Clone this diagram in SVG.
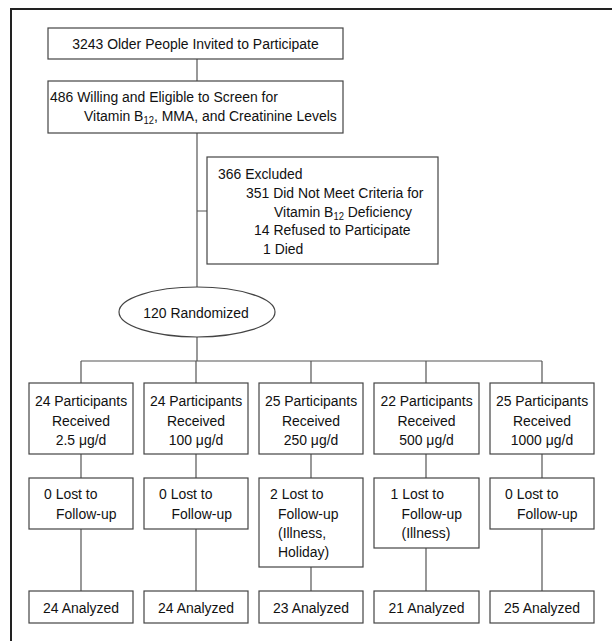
<svg xmlns="http://www.w3.org/2000/svg" width="612" height="641" viewBox="0 0 612 641">
<style>
text{font-family:"Liberation Sans",Arial,sans-serif;font-size:15.5px;fill:#111}
.m{text-anchor:middle}
.sub{font-size:10.5px}
.box{fill:#fff;stroke:#444;stroke-width:1.2}
.ln{fill:none;stroke:#555;stroke-width:1.2}
.frame{fill:none;stroke:#222;stroke-width:2}
</style>
<rect width="612" height="641" fill="#fff"/>
<path class="frame" d="M11,641 V9 H612"/>
<g id="connectors">
<path class="ln" d="M197,59 V81 M197,133 V287 M197,211 H207 M197,337 V361 M81,361 H542 M81,361 V383 M196,361 V383 M311,361 V383 M426,361 V383 M542,361 V383"/>
<path class="ln" d="M81,454 V478 M196,454 V478 M311,454 V478 M426,454 V478 M542,454 V478"/>
<path class="ln" d="M81,529 V591 M196,529 V591 M311,567 V591 M426,548 V591 M542,529 V591"/>
</g>
<g id="invited">
<rect class="box" x="48" y="28" width="295" height="31"/>
<text class="m" transform="translate(195.5,49) scale(0.9,1)">3243 Older People Invited to Participate</text>
</g>
<g id="screen">
<rect class="box" x="48" y="81" width="295" height="52"/>
<text transform="translate(50,102) scale(0.9,1)">486 Willing and Eligible to Screen for</text>
<text transform="translate(84,121) scale(0.9,1)">Vitamin B<tspan class="sub" dy="3">12</tspan><tspan dy="-3">, MMA, and Creatinine Levels</tspan></text>
</g>
<g id="excluded">
<rect class="box" x="207" y="157" width="231" height="107"/>
<text transform="translate(218,179) scale(0.9,1)">366 Excluded</text>
<text transform="translate(246,198) scale(0.9,1)">351 Did Not Meet Criteria for</text>
<text transform="translate(274,217) scale(0.9,1)">Vitamin B<tspan class="sub" dy="3">12</tspan><tspan dy="-3"> Deficiency</tspan></text>
<text transform="translate(254,235) scale(0.9,1)">14 Refused to Participate</text>
<text transform="translate(263,254) scale(0.9,1)">1 Died</text>
</g>
<g id="randomized">
<ellipse class="box" cx="197" cy="312" rx="78" ry="25"/>
<text class="m" transform="translate(196,318) scale(0.9,1)">120 Randomized</text>
</g>
<g id="arm1">
<rect class="box" x="29" y="383" width="104" height="71"/>
<text class="m" transform="translate(81,406) scale(0.9,1)">24 Participants</text>
<text class="m" transform="translate(81,426) scale(0.9,1)">Received</text>
<text class="m" transform="translate(81,445) scale(0.9,1)">2.5 μg/d</text>
</g>
<g id="arm2">
<rect class="box" x="144" y="383" width="104" height="71"/>
<text class="m" transform="translate(196,406) scale(0.9,1)">24 Participants</text>
<text class="m" transform="translate(196,426) scale(0.9,1)">Received</text>
<text class="m" transform="translate(196,445) scale(0.9,1)">100 μg/d</text>
</g>
<g id="arm3">
<rect class="box" x="259" y="383" width="104" height="71"/>
<text class="m" transform="translate(311,406) scale(0.9,1)">25 Participants</text>
<text class="m" transform="translate(311,426) scale(0.9,1)">Received</text>
<text class="m" transform="translate(311,445) scale(0.9,1)">250 μg/d</text>
</g>
<g id="arm4">
<rect class="box" x="374" y="383" width="105" height="71"/>
<text class="m" transform="translate(426.5,406) scale(0.9,1)">22 Participants</text>
<text class="m" transform="translate(426.5,426) scale(0.9,1)">Received</text>
<text class="m" transform="translate(426.5,445) scale(0.9,1)">500 μg/d</text>
</g>
<g id="arm5">
<rect class="box" x="490" y="383" width="104" height="71"/>
<text class="m" transform="translate(542,406) scale(0.9,1)">25 Participants</text>
<text class="m" transform="translate(542,426) scale(0.9,1)">Received</text>
<text class="m" transform="translate(542,445) scale(0.9,1)">1000 μg/d</text>
</g>
<g id="lost1">
<rect class="box" x="29" y="478" width="104" height="51"/>
<text transform="translate(44,499) scale(0.9,1)">0 Lost to</text>
<text transform="translate(56,519) scale(0.9,1)">Follow-up</text>
</g>
<g id="lost2">
<rect class="box" x="144" y="478" width="104" height="51"/>
<text transform="translate(159,499) scale(0.9,1)">0 Lost to</text>
<text transform="translate(171.5,519) scale(0.9,1)">Follow-up</text>
</g>
<g id="lost3">
<rect class="box" x="259" y="478" width="104" height="89"/>
<text transform="translate(270,499) scale(0.9,1)">2 Lost to</text>
<text transform="translate(278,519) scale(0.9,1)">Follow-up</text>
<text transform="translate(278,538) scale(0.9,1)">(Illness,</text>
<text transform="translate(278,557) scale(0.9,1)">Holiday)</text>
</g>
<g id="lost4">
<rect class="box" x="374" y="478" width="105" height="70"/>
<text transform="translate(390.5,499) scale(0.9,1)">1 Lost to</text>
<text transform="translate(401.5,519) scale(0.9,1)">Follow-up</text>
<text transform="translate(401.5,538) scale(0.9,1)">(Illness)</text>
</g>
<g id="lost5">
<rect class="box" x="490" y="478" width="104" height="51"/>
<text transform="translate(505,499) scale(0.9,1)">0 Lost to</text>
<text transform="translate(517,519) scale(0.9,1)">Follow-up</text>
</g>
<g id="analyzed1">
<rect class="box" x="29" y="591" width="104" height="32"/>
<text class="m" transform="translate(81,613) scale(0.9,1)">24 Analyzed</text>
</g>
<g id="analyzed2">
<rect class="box" x="144" y="591" width="104" height="32"/>
<text class="m" transform="translate(196,613) scale(0.9,1)">24 Analyzed</text>
</g>
<g id="analyzed3">
<rect class="box" x="259" y="591" width="104" height="32"/>
<text class="m" transform="translate(311,613) scale(0.9,1)">23 Analyzed</text>
</g>
<g id="analyzed4">
<rect class="box" x="374" y="591" width="105" height="32"/>
<text class="m" transform="translate(426.5,613) scale(0.9,1)">21 Analyzed</text>
</g>
<g id="analyzed5">
<rect class="box" x="490" y="591" width="104" height="32"/>
<text class="m" transform="translate(542,613) scale(0.9,1)">25 Analyzed</text>
</g>
</svg>
